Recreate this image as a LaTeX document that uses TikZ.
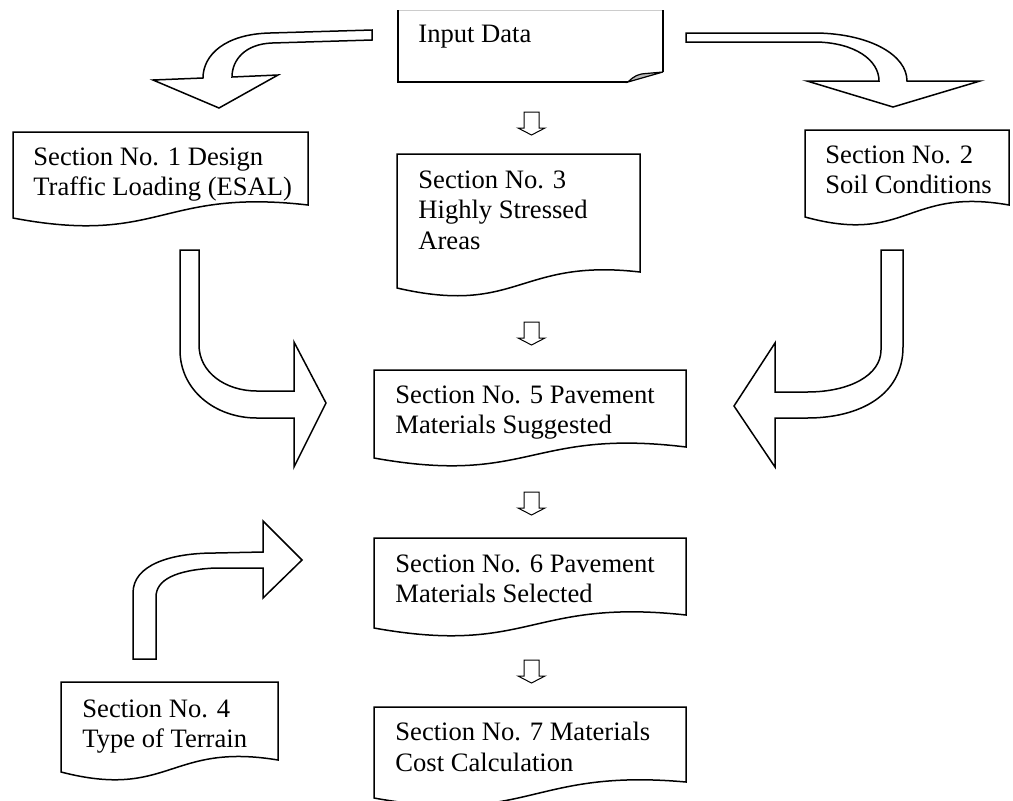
\documentclass[tikz,border=0pt]{standalone}
\usepackage{fontspec}
\setmainfont{Liberation Serif}
\newcommand\mydocbox[5]{%
  \pgfmathsetmacro\dbmid{(#1+#3)/2}%
  \pgfmathsetmacro\dbca{#4+28}%
  \pgfmathsetmacro\dbcb{#4-30}%
  \draw[boxline] (#1,#2) -- (#3,#2) -- (#3,#5) .. controls (\dbmid,\dbcb) and (\dbmid,\dbca) .. (#1,#4) -- cycle;%
}
\tikzset{
  boxline/.style={draw=black,line width=0.75pt,fill=white},
  blockarrow/.style={draw=black,line width=0.75pt,fill=white,line join=miter},
  txt/.style={anchor=north west,inner sep=0pt,align=left,font=\fontsize{13.3pt}{15.3pt}\selectfont},
  smallarrow/.pic={\draw[line width=0.5pt] (-7.5,0) -- (7.5,0) -- (7.5,16) -- (13.5,16) -- (0,23) -- (-13.5,16) -- (-7.5,16) -- cycle;}
}
\begin{document}
\begin{tikzpicture}[x=0.5pt,y=-0.5pt]
\useasboundingbox (0,0) rectangle (1013,800);

% Input Data box (folded corner)
\draw[gray!40,line width=0.5pt] (398,10) -- (663,10);
\draw[black,line width=0.75pt] (398,10) -- (398,82) -- (628,82);
\draw[black,line width=0.75pt] (663,10) -- (663,72);
\filldraw[fill=gray!55,draw=black,line width=0.6pt] (628,82) .. controls (634,76) and (638,74) .. (646,73.5) -- (663,72) -- cycle;
\node[txt] (inp) at (418,25) {Input Data};

% document boxes
\mydocbox{13}{132}{308}{218}{205}
\node[txt] (s1) at (33,147) {Section No. 1 Design\\Traffic Loading (ESAL)};

\mydocbox{805}{130}{1009}{217}{205}
\node[txt] (s2) at (825,145) {Section No. 2\\Soil Conditions};

\mydocbox{397}{154}{640}{288}{272}
\node[txt] (s3) at (418,170) {Section No. 3\\Highly Stressed\\Areas};

\mydocbox{374}{370}{686}{458}{447}
\node[txt] (s5) at (395,385) {Section No. 5 Pavement\\Materials Suggested};

\mydocbox{374}{538}{686}{628}{615}
\node[txt] (s6) at (395,554) {Section No. 6 Pavement\\Materials Selected};

\mydocbox{374}{707}{686}{798}{782}
\node[txt] (s7) at (395,722) {Section No. 7 Materials\\Cost Calculation};

\mydocbox{61}{682}{278}{772}{760}
\node[txt] (s4) at (82,699) {Section No. 4\\Type of Terrain};

% small down arrows
\pic at (531.5,112) {smallarrow};
\pic at (531.5,322) {smallarrow};
\pic at (531.5,492) {smallarrow};
\pic at (531.5,660) {smallarrow};

% Arrow A: input -> section 1
\draw[blockarrow] (372,30) -- (270,33) .. controls (225,34) and (203,55) .. (203,78) -- (153,80) -- (219,108) -- (278,75) -- (232,77) .. controls (232,60) and (245,44) .. (272,43) -- (372,40) -- cycle;

% Arrow B: input -> section 2
\draw[blockarrow] (686,33) -- (817,33) .. controls (870,34) and (907,55) .. (907,81) -- (980,81) -- (893,107) -- (807,81) -- (879,81) .. controls (879,60) and (855,43) .. (817,42) -- (686,42) -- cycle;

% Arrow C: section 1 -> section 5
\draw[blockarrow] (180,250) -- (180,350) .. controls (180,390) and (215,418) .. (257,418) -- (294,418) -- (294,467) -- (326,403) -- (294,342) -- (294,391) -- (257,391) .. controls (225,391) and (199,372) .. (199,345) -- (199,250) -- cycle;

% Arrow D: section 2 -> section 5
\draw[blockarrow] (903,250) -- (903,347) .. controls (903,395) and (860,418) .. (807,418) -- (775,418) -- (775,467) -- (734,406) -- (775,343) -- (775,392) -- (807,392) .. controls (850,392) and (881,375) .. (881,350) -- (881,250) -- cycle;

% Arrow E: section 4 -> section 6
\draw[blockarrow] (133,659) -- (133,593) .. controls (133,565) and (170,553) .. (215,553) -- (263,552) -- (263,521) -- (302,560) -- (263,598) -- (263,568) -- (215,568) .. controls (175,570) and (156,580) .. (156,597) -- (156,659) -- cycle;
\end{tikzpicture}
\end{document}
